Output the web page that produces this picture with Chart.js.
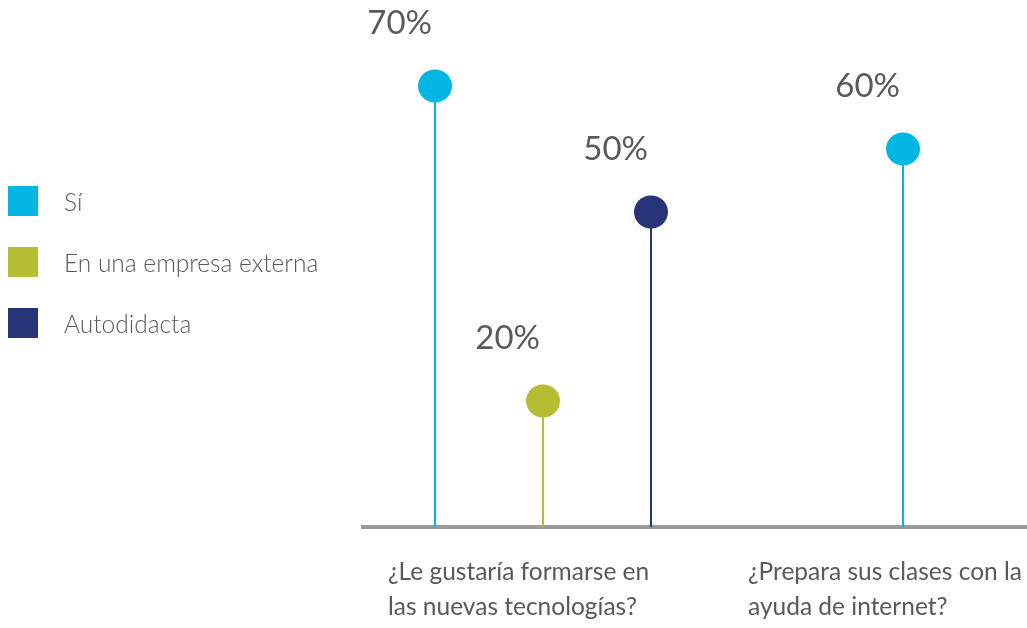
<!DOCTYPE html>
<html lang="es">
<head>
<meta charset="UTF-8">
<title>Formación en nuevas tecnologías</title>
<script src="https://cdn.jsdelivr.net/npm/chart.js@4.4.1/dist/chart.umd.min.js"></script>
<style>
  html, body { margin: 0; padding: 0; overflow: hidden; background: #fff; }
  #wrap { position: relative; width: 1027px; height: 628px; overflow: hidden; }
  #grafico { display: block; position: absolute; left: 0; top: 0; }
  #leyenda { position: absolute; left: 8px; top: 186px; font-family: Lato, sans-serif; font-weight: 300; font-size: 24.5px; color: #595959; }
  .item { display: flex; align-items: center; height: 30px; margin-bottom: 31px; }
  .caja { width: 30px; height: 30px; margin-right: 26px; }
</style>
</head>
<body>
<div id="wrap">
  <canvas id="grafico" width="1100" height="628"></canvas>
  <div id="leyenda"></div>
</div>
<script>
// Datos de la encuesta
const preguntas = [
  ['¿Le gustaría formarse en', 'las nuevas tecnologías?'],
  ['¿Prepara sus clases con la', 'ayuda de internet?']
];
const series = ['Sí', 'En una empresa externa', 'Autodidacta'];
const valoresSi = [70, 60];
const valoresExterna = [20, null];
const valoresAutodidacta = [50, null];
const colores = ['#00b7e1', '#b5be32', '#283478'];

// Leyenda a la izquierda
const leyenda = document.getElementById('leyenda');
series.forEach((nombre, i) => {
  const item = document.createElement('div');
  item.className = 'item';
  item.innerHTML = '<span class="caja" style="background:' + colores[i] + '"></span><span>' + nombre + '</span>';
  leyenda.appendChild(item);
});

// Dibuja el círculo y el porcentaje encima de cada palito
const piruletas = {
  id: 'piruletas',
  afterDatasetsDraw(chart) {
    const ctx = chart.ctx;
    chart.data.datasets.forEach((ds, i) => {
      chart.getDatasetMeta(i).data.forEach((barra, j) => {
        const v = ds.data[j];
        if (v == null) return;
        ctx.save();
        ctx.fillStyle = ds.backgroundColor;
        ctx.beginPath();
        ctx.ellipse(barra.x, barra.y, 17, 16.5, 0, 0, Math.PI * 2);
        ctx.fill();
        ctx.fillStyle = '#595959';
        ctx.font = '33px Lato';
        ctx.textAlign = 'right';
        ctx.textBaseline = 'middle';
        ctx.fillText(v + '%', barra.x - 3, barra.y - 63);
        ctx.restore();
      });
    });
  }
};

const valores = [valoresSi, valoresExterna, valoresAutodidacta];

new Chart(document.getElementById('grafico'), {
  type: 'bar',
  data: {
    labels: preguntas,
    datasets: series.map((nombre, i) => ({
      label: nombre,
      data: valores[i],
      backgroundColor: colores[i],
      maxBarThickness: 2,
      skipNull: true
    }))
  },
  options: {
    responsive: false,
    animation: false,
    events: [],
    categoryPercentage: 0.9,
    layout: { padding: { left: 363, right: 17, top: 23, bottom: 3 } },
    plugins: { legend: { display: false }, tooltip: { enabled: false } },
    scales: {
      x: {
        grid: { drawOnChartArea: false, drawTicks: false },
        border: { display: true, color: '#9a9a9a', width: 4 },
        ticks: {
          align: 'start',
          labelOffset: -155,
          padding: 28,
          maxRotation: 0,
          autoSkip: false,
          color: '#595959',
          font: { family: 'Lato', size: 24.5, lineHeight: '35px' }
        },
        // altura fija del eje y sin reservar hueco para la última etiqueta
        afterFit(escala) {
          escala.height = 98;
          escala.paddingLeft = 0;
          escala.paddingRight = 0;
        }
      },
      y: {
        display: false,
        min: 0,
        max: 80
      }
    }
  },
  plugins: [piruletas]
});
</script>
</body>
</html>
